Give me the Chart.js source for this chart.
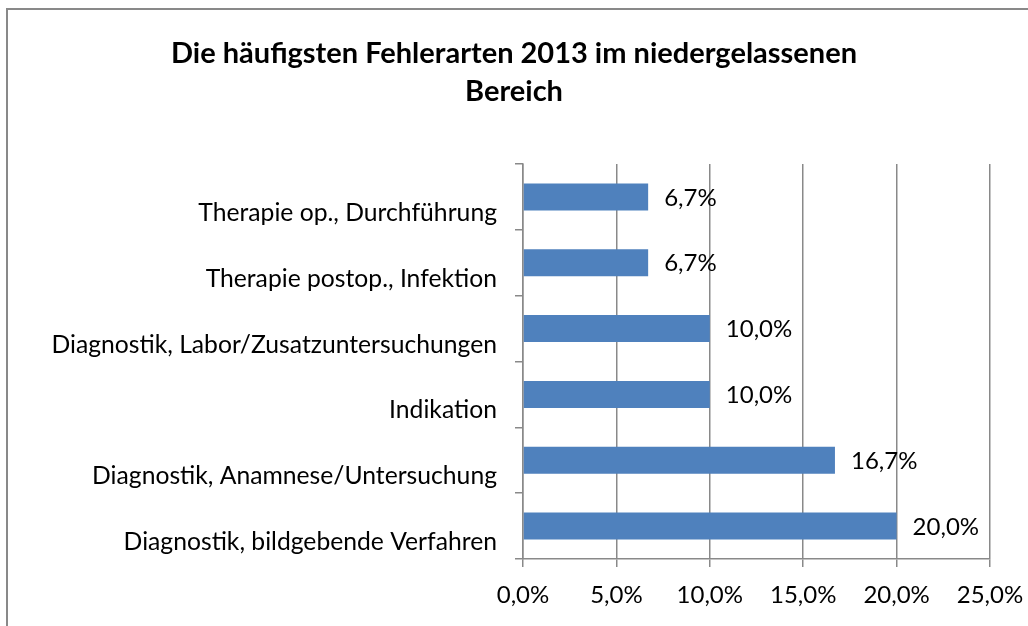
<!DOCTYPE html>
<html>
<head>
<meta charset="utf-8">
<script src="https://cdn.jsdelivr.net/npm/chart.js@4/dist/chart.umd.min.js"></script>
<style>
  html, body { margin: 0; padding: 0; background: #fff; overflow: hidden; }
  #wrap { position: relative; width: 1028px; height: 626px; overflow: hidden; }
  #frame { position: absolute; left: 6px; top: 8px; width: 1100px; height: 700px; border: 2px solid #898989; box-sizing: border-box; pointer-events: none; }
  canvas { position: absolute; left: 0; top: 0; }
</style>
</head>
<body>
<div id="wrap">
  <canvas id="c" width="1028" height="626"></canvas>
  <div id="frame"></div>
</div>
<script>
const titleLines = ['Die häufigsten Fehlerarten 2013 im niedergelassenen', 'Bereich'];
const categories = [
  'Therapie op., Durchführung',
  'Therapie postop., Infektion',
  'Diagnostik, Labor/Zusatzuntersuchungen',
  'Indikation',
  'Diagnostik, Anamnese/Untersuchung',
  'Diagnostik, bildgebende Verfahren'
];
const values = [6.7, 6.7, 10.0, 10.0, 16.7, 20.0];
const xTicks = [0, 5, 10, 15, 20, 25];

const FONT = "Lato, 'Open Sans', 'DejaVu Sans', sans-serif";
const fmt = v => v.toFixed(1).replace('.', ',') + '%';
const GRID = '#898989';

const dataLabels = {
  id: 'dataLabels',
  afterDatasetsDraw(chart) {
    const ctx = chart.ctx;
    const meta = chart.getDatasetMeta(0);
    ctx.save();
    ctx.font = '24px ' + FONT;
    ctx.fillStyle = '#000';
    ctx.textAlign = 'left';
    ctx.textBaseline = 'middle';
    meta.data.forEach((bar, i) => {
      ctx.fillText(fmt(values[i]), bar.x + 16, bar.y + 1);
    });
    ctx.restore();
  }
};

new Chart(document.getElementById('c'), {
  type: 'bar',
  data: {
    labels: categories,
    datasets: [{
      data: values,
      backgroundColor: '#4F81BD',
      borderWidth: 0,
      barPercentage: 0.41,
      categoryPercentage: 1.0
    }]
  },
  options: {
    indexAxis: 'y',
    responsive: false,
    animation: false,
    layout: { padding: 0 },
    plugins: {
      legend: { display: false },
      tooltip: { enabled: false },
      title: {
        display: true,
        text: titleLines,
        color: '#000',
        font: { family: FONT, size: 29, weight: 'bold', lineHeight: 1.31 },
        padding: { top: 35, bottom: 53 }
      }
    },
    scales: {
      x: {
        min: 0, max: 25,
        afterBuildTicks: s => { s.ticks = xTicks.map(v => ({ value: v })); },
        ticks: {
          callback: v => fmt(v),
          color: '#000',
          font: { family: FONT, size: 24 },
          padding: 14,
          maxRotation: 0
        },
        grid: { color: GRID, lineWidth: 1.5, tickLength: 8, drawTicks: true },
        border: { color: GRID, width: 1.5 },
        afterFit: s => { s.height = 626 - 559; s.paddingRight = 38; s.paddingLeft = 0; }
      },
      y: {
        ticks: {
          color: '#000',
          font: { family: FONT, size: 24.7 },
          padding: 18,
          labelOffset: 16
        },
        grid: { drawOnChartArea: false, drawTicks: true, tickLength: 8, color: GRID, lineWidth: 1.5, offset: true },
        border: { color: GRID, width: 1.5 },
        afterFit: s => { s.width = 523; s.paddingTop = 0; s.paddingBottom = 0; }
      }
    }
  },
  plugins: [dataLabels]
});
</script>
</body>
</html>
